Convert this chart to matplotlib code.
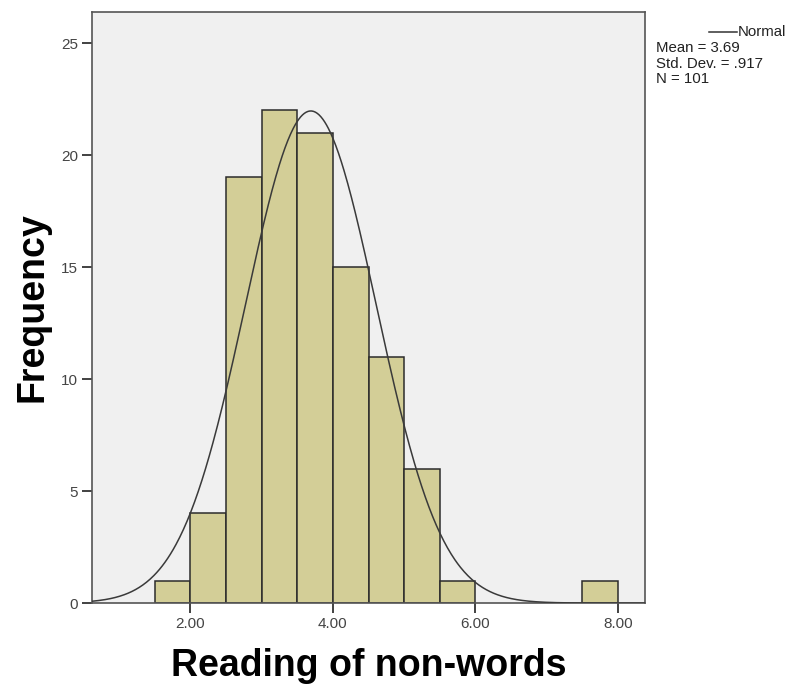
import numpy as np
import matplotlib.pyplot as plt

plt.rcParams['font.family'] = ['Liberation Sans', 'DejaVu Sans']

# histogram of reading scores (bin edges and counts)
bin_edges = [1.5, 2.0, 2.5, 3.0, 3.5, 4.0, 4.5, 5.0, 5.5, 6.0, 6.5, 7.0, 7.5, 8.0]
counts = [1, 4, 19, 22, 21, 15, 11, 6, 1, 0, 0, 0, 1]
mean = 3.69
std_dev = 0.917
n_cases = 101

x_ticks = [2.0, 4.0, 6.0, 8.0]
x_tick_labels = ['2.00', '4.00', '6.00', '8.00']
y_ticks = [0, 5, 10, 15, 20, 25]

fig = plt.figure(figsize=(7.9, 6.9), dpi=100)
ax = fig.add_axes([0.1165, 0.126, 0.7, 0.857])
ax.set_facecolor('#f0f0f0')

edges = np.array(bin_edges)
widths = np.diff(edges)
for left, w, c in zip(edges[:-1], widths, counts):
    if c > 0:
        ax.bar(left, c, width=w, align='edge', color='#d3ce97',
               edgecolor='#2b2b2b', linewidth=1.1, zorder=2)

# fitted normal curve scaled to counts
x_min, x_max = 0.62, 8.38
xs = np.linspace(x_min, x_max, 600)
bin_w = widths[0]
ys = n_cases * bin_w / (std_dev * np.sqrt(2 * np.pi)) * np.exp(-0.5 * ((xs - mean) / std_dev) ** 2)
ax.plot(xs, ys, color='#3a3a3a', linewidth=1.1, zorder=3)

ax.set_xlim(x_min, x_max)
ax.set_ylim(0, 26.4)
ax.set_xticks(x_ticks)
ax.set_xticklabels(x_tick_labels)
ax.set_yticks(y_ticks)
ax.tick_params(axis='both', direction='out', length=7, width=1.3, color='#333333',
               labelsize=11, labelcolor='#444444', pad=3)
for s in ax.spines.values():
    s.set_color('#555555')
    s.set_linewidth(1.2)

ax.set_xlabel('Reading of non-words', fontsize=27, fontweight='bold', labelpad=12)
ax.set_ylabel('Frequency', fontsize=27, fontweight='bold', labelpad=8)

# legend and summary stats at the right
fig.add_artist(plt.Line2D([709 / 790, 737 / 790], [1 - 32 / 690, 1 - 32 / 690],
                          color='#333333', linewidth=1.1))
fig.text(738 / 790, 1 - 32 / 690, 'Normal', fontsize=10.8, va='center', color='#222222')
stats = ['Mean = 3.69', 'Std. Dev. = .917', 'N = 101']
for i, line in enumerate(stats):
    fig.text(656 / 790, 1 - (48 + 15.5 * i) / 690, line, fontsize=10.8, va='center', color='#222222')

fig.savefig('out.png', dpi=100, facecolor='white')
